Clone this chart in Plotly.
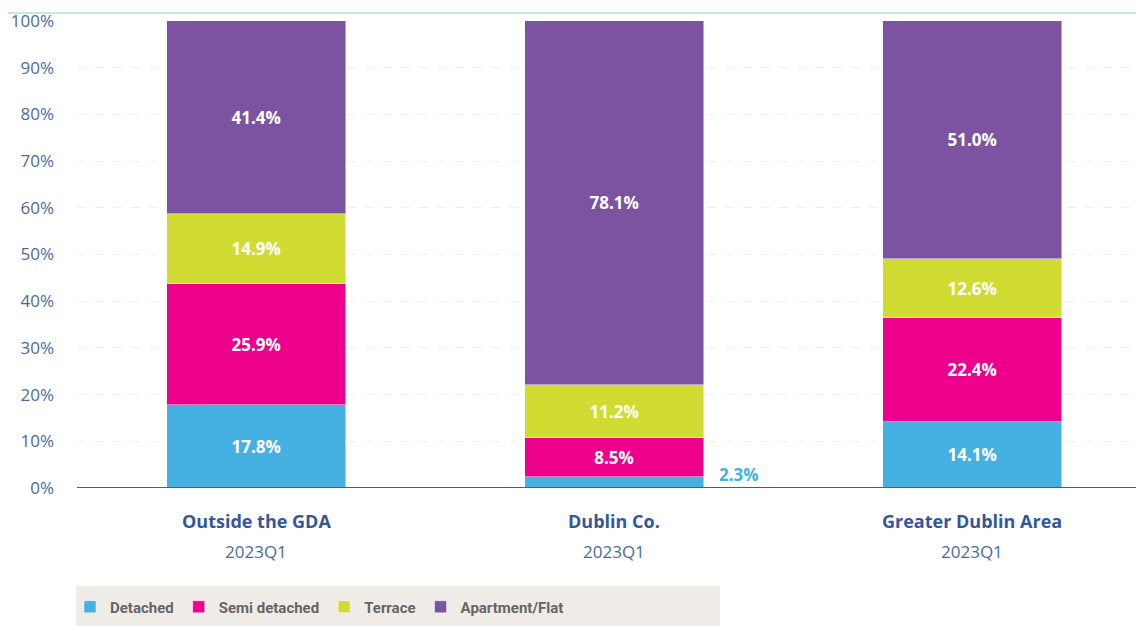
import plotly.graph_objects as go

categories = ["Outside the GDA", "Dublin Co.", "Greater Dublin Area"]
period = ["2023Q1", "2023Q1", "2023Q1"]
series_names = ["Detached", "Semi detached", "Terrace", "Apartment/Flat"]
detached = [17.8, 2.3, 14.1]
semi_detached = [25.9, 8.5, 22.4]
terrace = [14.9, 11.2, 12.6]
apartment = [41.4, 78.1, 51.0]
y_ticks = [0, 10, 20, 30, 40, 50, 60, 70, 80, 90, 100]
y_tick_labels = ["0%", "10%", "20%", "30%", "40%", "50%", "60%", "70%", "80%", "90%", "100%"]

colors = ["#45b1e3", "#ec008c", "#d0dc32", "#7b53a1"]
series = [detached, semi_detached, terrace, apartment]

# the page body adds an 8px offset; work in page pixels and convert
OFF = 8
W, H = 1144, 626
ml = 77 - OFF
mt = 21 - OFF
plot_right = 1144 - OFF
plot_bottom = 488 - OFF
mr = W - plot_right
mb = H - plot_bottom
ph = H - mt - mb
pw = W - ml - mr
slot = 358.0
bar_w = 0.5
x_idx = list(range(len(categories)))


def py(page_y):
    """page pixel y -> paper coordinate"""
    return (ph - (page_y - OFF - mt)) / ph


def pxx(page_x):
    return (page_x - OFF - ml) / pw


fig = go.Figure()
label_font = dict(family="Open Sans, Noto Sans, sans-serif", size=17, color="white", weight=700)
for name, vals, col in zip(series_names, series, colors):
    texts = [f"{v:.1f}%" if v >= 5 else "" for v in vals]
    fig.add_trace(go.Bar(
        x=x_idx, y=vals, name=name, width=bar_w,
        marker=dict(color=col, line=dict(color="rgba(255,255,255,0.6)", width=0.8)),
        text=texts, textposition="inside", insidetextanchor="middle",
        textangle=0, textfont=label_font, constraintext="none",
        hoverinfo="name+y",
    ))

annotations = []
# small value labels placed beside the bar
for vals, col in zip(series, colors):
    for i, v in enumerate(vals):
        if v < 5:
            annotations.append(dict(
                x=i + bar_w / 2, y=v, xref="x", yref="y",
                text=f"<b>{v:.1f}%</b>", showarrow=False,
                xanchor="left", yanchor="middle", xshift=13, yshift=3,
                font=dict(family="Open Sans, Noto Sans, sans-serif", size=17, color=col),
            ))

# category + period labels
for i, (c, p) in enumerate(zip(categories, period)):
    annotations.append(dict(
        x=i, y=py(521), xref="x", yref="paper", text=f"<b>{c}</b>", showarrow=False,
        xanchor="center", yanchor="middle",
        font=dict(family="Open Sans, Noto Sans, sans-serif", size=18, color="#34569a"),
    ))
    annotations.append(dict(
        x=i, y=py(551), xref="x", yref="paper", text=p, showarrow=False,
        xanchor="center", yanchor="middle",
        font=dict(family="Open Sans, Noto Sans, sans-serif", size=17, color="#4a6aa2", weight=400),
    ))

x_end = -0.5 + pw / slot

fig.update_layout(
    width=W, height=H,
    margin=dict(l=ml, r=mr, t=mt, b=mb, pad=0, autoexpand=False),
    paper_bgcolor="white", plot_bgcolor="white",
    barmode="stack",
    showlegend=True,
    legend=dict(
        orientation="h", x=pxx(70), xanchor="left",
        y=py(607), yanchor="middle",
        bgcolor="rgba(0,0,0,0)",
        font=dict(family="Roboto, sans-serif", size=15, color="#666666", weight=700),
        itemwidth=30, traceorder="normal",
    ),
    xaxis=dict(
        range=[-0.5, x_end], tickmode="array", tickvals=x_idx, ticktext=[""] * len(x_idx),
        showgrid=False, zeroline=False, showline=False, ticks="",
        fixedrange=True,
    ),
    yaxis=dict(
        range=[0, 100], tickmode="array", tickvals=y_ticks, ticktext=y_tick_labels,
        showgrid=True, gridcolor="#eeeeee", griddash="dash", gridwidth=1,
        zeroline=False, showline=False, ticks="",
        tickfont=dict(family="Open Sans, Noto Sans, sans-serif", size=17, color="#4a6aa2", weight=400),
        ticklabelstandoff=22, fixedrange=True,
    ),
    annotations=annotations,
    shapes=[
        # baseline
        dict(type="line", xref="paper", yref="y", x0=0, x1=1, y0=0, y1=0,
             line=dict(color="#3d5f99", width=2), layer="above"),
        # top light line
        dict(type="line", xref="paper", yref="paper", x0=pxx(0), x1=1,
             y0=py(13), y1=py(13), line=dict(color="#c8e4ef", width=2)),
        # legend background
        dict(type="rect", xref="paper", yref="paper", x0=pxx(76), x1=pxx(720),
             y0=py(626), y1=py(586),
             fillcolor="#efebe7", line=dict(width=0), layer="below"),
    ],
    bargap=0,
)

fig.write_html("out.html")
